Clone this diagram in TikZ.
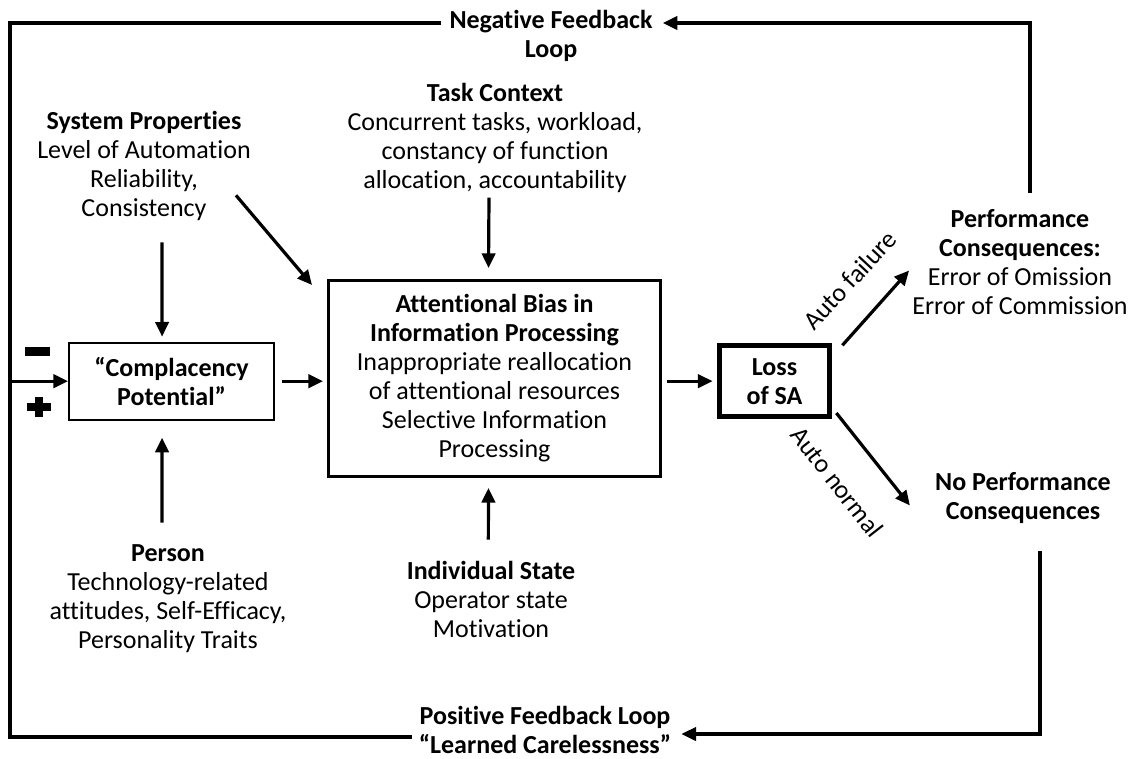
\documentclass[tikz,border=0pt]{standalone}
\usepackage{fontspec}
\setmainfont{Carlito}[Ligatures=NoCommon]
\usepackage{tikz}
\usetikzlibrary{arrows.meta,positioning,calc}

\begin{document}
\begin{tikzpicture}[
    x=0.75pt, y=-0.75pt,
    every node/.style={font=\fontsize{19.5pt}{21.75pt}\selectfont, align=center, inner sep=0pt},
    factor/.style={},
    cbox/.style={rectangle, draw, line width=1.5pt, minimum width=153.75pt, minimum height=57.75pt, font=\fontsize{19.5pt}{21.75pt}\selectfont\bfseries},
    abox/.style={rectangle, draw, line width=2.2pt, minimum width=249pt, minimum height=147pt},
    lbox/.style={rectangle, draw, line width=3.8pt, minimum width=83pt, minimum height=53pt, font=\fontsize{19.5pt}{21.75pt}\selectfont\bfseries},
    arrow/.style={-{Triangle[length=11pt,width=10pt]}, line width=2.4pt},
    loopline/.style={line width=2.8pt}
]
    \useasboundingbox (0,0) rectangle (1138,759);

    % Central chain
    \node[abox] (att) at (494.5,378.5) {\textbf{Attentional Bias in}\\\textbf{Information Processing}\\Inappropriate reallocation\\of attentional resources\\Selective Information\\Processing};
    \node[cbox, left=39pt of att, yshift=-2pt] (comp) {“Complacency\\Potential”};
    \node[lbox, right=41pt of att, yshift=-2pt] (loss) {Loss\\of SA};

    % Influencing factors
    \node[factor] (sys) at (144,166) {\textbf{System Properties}\\Level of Automation\\Reliability,\\Consistency};
    \node[factor] (task) at (495,138) {\textbf{Task Context}\\Concurrent tasks, workload,\\constancy of function\\allocation, accountability};
    \node[factor] (person) at (168,599) {\textbf{Person}\\Technology-related\\attitudes, Self-Efficacy,\\Personality Traits};
    \node[factor] (indiv) at (491,599) {\textbf{Individual State}\\Operator state\\Motivation};

    % Outcomes
    \node[factor] (perf) at (1020,262) {\textbf{Performance}\\\textbf{Consequences:}\\Error of Omission\\Error of Commission};
    \node[factor] (noperf) at (1023,498) {\textbf{No Performance}\\\textbf{Consequences}};
    \node[rotate=47] (fail) at (850,280) {Auto failure};
    \node[rotate=-52] (normal) at (837,482) {Auto normal};

    % Feedback loops
    \node[factor] (negfb) at (551,36) {\textbf{Negative Feedback}\\\textbf{Loop}};
    \node[factor] (posfb) at (545,730) {\textbf{Positive Feedback Loop}\\\textbf{“Learned Carelessness”}};
    \coordinate (tl) at (10,23);
    \coordinate (bl) at (10,737);
    \coordinate (tr) at (1030,23);
    \coordinate (br) at (1040,734);

    % Arrows
    \draw[arrow] ([xshift=13.5pt,yshift=-16pt]sys.south) -- ([xshift=-7.1pt,yshift=3.75pt]comp.north);
    \draw[arrow] ([xshift=-4.5pt,yshift=16.5pt]person.north) -- ([xshift=-7.1pt,yshift=-12.75pt]comp.south);
    \draw[arrow] ([xshift=-11.25pt,yshift=-22pt]sys.east) -- ([xshift=-11.25pt,yshift=-4.5pt]att.north west);
    \draw[arrow] ([xshift=-4.5pt,yshift=-3.4pt]task.south) -- ([xshift=-4.5pt,yshift=8.25pt]att.north);
    \draw[arrow] ([xshift=-2pt,yshift=15.75pt]indiv.north) -- ([xshift=-4.5pt,yshift=-7.5pt]att.south);
    \draw[arrow] ([xshift=5.25pt]comp.east) -- ([xshift=-3pt]comp.east -| att.west);
    \draw[arrow] ([xshift=3.75pt]att.east |- loss.west) -- ([xshift=-3pt]loss.west);
    \draw[arrow] ([xshift=7.5pt,yshift=-1.5pt]loss.north east) -- ([xshift=-2.25pt,yshift=-6.4pt]perf.west);
    \draw[arrow] ([xshift=3pt,yshift=4.5pt]loss.south east) -- ([xshift=-18.75pt,yshift=-5.6pt]noperf.west);

    % Loops
    \draw[loopline] ([xshift=-6pt]negfb.west |- tl) -- (tl) -- (bl) -- ([xshift=-5pt]posfb.west |- bl);
    \draw[arrow] (tl |- comp.west) -- (comp.west);
    \draw[arrow] ([yshift=12pt]perf.north -| tr) -- (tr) -- ([xshift=7.5pt]negfb.east |- tr);
    \draw[arrow] ([yshift=-20.5pt]noperf.south -| br) -- (br) -- ([xshift=7.5pt]posfb.east |- br);

    % Signs
    \fill (25,347) rectangle (50,356);
    \fill (35,397) rectangle (43,417);
    \fill (27,403) rectangle (51,411);
\end{tikzpicture}
\end{document}
